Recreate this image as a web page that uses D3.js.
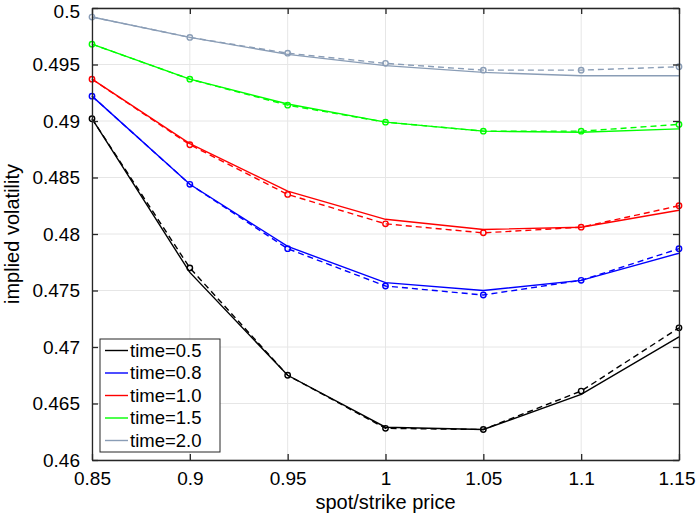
<!DOCTYPE html>
<html>
<head>
<meta charset="utf-8">
<script src="https://cdn.jsdelivr.net/npm/d3@7"></script>
<style>
  html, body { margin: 0; padding: 0; background: #fff; }
  svg { display: block; font-family: "Liberation Sans", Arial, Helvetica, sans-serif; }
</style>
</head>
<body>
<svg id="chart" width="696" height="519"></svg>
<script>
// ---- data ----
const spot = [0.85, 0.9, 0.95, 1.0, 1.05, 1.1, 1.15];
const seriesNames = ["time=0.5", "time=0.8", "time=1.0", "time=1.5", "time=2.0"];
const seriesColors = ["#000000", "#0000ff", "#ff0000", "#00ff00", "#8a9db6"];
// model (solid lines)
const model05 = [0.4902, 0.4766, 0.4675, 0.4629, 0.4627, 0.4658, 0.4709];
const model08 = [0.4922, 0.4844, 0.4789, 0.4757, 0.4750, 0.4759, 0.4783];
const model10 = [0.4937, 0.4880, 0.4838, 0.4813, 0.4804, 0.4806, 0.4821];
const model15 = [0.4968, 0.4937, 0.4915, 0.4899, 0.4891, 0.4890, 0.4893];
const model20 = [0.4992, 0.4974, 0.4959, 0.4949, 0.4943, 0.4940, 0.4940];
// market (dashed lines with circle markers)
const market05 = [0.4902, 0.4770, 0.4675, 0.4628, 0.4627, 0.4661, 0.4717];
const market08 = [0.4922, 0.4844, 0.4787, 0.4754, 0.4746, 0.4759, 0.4787];
const market10 = [0.4937, 0.4879, 0.4835, 0.4809, 0.4801, 0.4806, 0.4825];
const market15 = [0.4968, 0.4937, 0.4914, 0.4899, 0.4891, 0.4891, 0.4897];
const market20 = [0.4992, 0.4974, 0.4960, 0.4951, 0.4945, 0.4945, 0.4948];
const xTicks = [0.85, 0.9, 0.95, 1.0, 1.05, 1.1, 1.15];
const xTickLabels = ["0.85", "0.9", "0.95", "1", "1.05", "1.1", "1.15"];
const yTicks = [0.46, 0.465, 0.47, 0.475, 0.48, 0.485, 0.49, 0.495, 0.5];
const yTickLabels = ["0.46", "0.465", "0.47", "0.475", "0.48", "0.485", "0.49", "0.495", "0.5"];
const xLabel = "spot/strike price";
const yLabel = "implied volatility";

const models = [model05, model08, model10, model15, model20];
const markets = [market05, market08, market10, market15, market20];

// ---- layout ----
const L = 92, R = 679, T = 8, B = 460;
const svg = d3.select("#chart");
const x = d3.scaleLinear().domain([0.85, 1.15]).range([L, R]);
const y = d3.scaleLinear().domain([0.46, 0.5]).range([B, T]);

// grid
const grid = svg.append("g");
grid.selectAll("line.gx").data(xTicks).join("line")
  .attr("x1", d => x(d)).attr("x2", d => x(d)).attr("y1", T).attr("y2", B)
  .attr("stroke", "#e6e6e6").attr("stroke-width", 1);
grid.selectAll("line.gy").data(yTicks).join("line")
  .attr("y1", d => y(d)).attr("y2", d => y(d)).attr("x1", L).attr("x2", R)
  .attr("stroke", "#e6e6e6").attr("stroke-width", 1);

// series
const lineGen = d3.line().x((d, i) => x(spot[i])).y(d => y(d));
const plot = svg.append("g");
models.forEach((vals, k) => {
  plot.append("path").datum(markets[k]).attr("d", lineGen)
    .attr("fill", "none").attr("stroke", seriesColors[k]).attr("stroke-width", 1.4)
    .attr("stroke-dasharray", "6,4");
  plot.append("path").datum(vals).attr("d", lineGen)
    .attr("fill", "none").attr("stroke", seriesColors[k]).attr("stroke-width", 1.4);
  plot.selectAll(null).data(markets[k]).join("circle")
    .attr("cx", (d, i) => x(spot[i])).attr("cy", d => y(d)).attr("r", 2.7)
    .attr("fill", "none").attr("stroke", seriesColors[k]).attr("stroke-width", 1.4);
});

// axes (box with inward ticks)
const axisColor = "#262626";
const tickLen = 6;
const fmtX = (d, i) => xTickLabels[i];
const fmtY = (d, i) => yTickLabels[i];
const axB = svg.append("g").attr("transform", `translate(0,${B})`)
  .call(d3.axisBottom(x).tickValues(xTicks).tickFormat(fmtX).tickSizeInner(-tickLen).tickSizeOuter(0).tickPadding(12));
const axT = svg.append("g").attr("transform", `translate(0,${T})`)
  .call(d3.axisTop(x).tickValues(xTicks).tickFormat("").tickSizeInner(-tickLen).tickSizeOuter(0));
const axL = svg.append("g").attr("transform", `translate(${L},0)`)
  .call(d3.axisLeft(y).tickValues(yTicks).tickFormat(fmtY).tickSizeInner(-tickLen).tickSizeOuter(0).tickPadding(12));
const axR = svg.append("g").attr("transform", `translate(${R},0)`)
  .call(d3.axisRight(y).tickValues(yTicks).tickFormat("").tickSizeInner(-tickLen).tickSizeOuter(0));
[axB, axT, axL, axR].forEach(a => {
  a.select(".domain").attr("stroke", axisColor).attr("stroke-width", 1.3);
  a.selectAll(".tick line").attr("stroke", axisColor).attr("stroke-width", 1.3);
  a.selectAll("text").attr("fill", "#000").style("font-size", "19px")
    .style("font-family", '"Liberation Sans", Arial, sans-serif');
});
// keep the last x tick label inside the window, as in the reference
axB.selectAll(".tick text").filter((d, i) => i === xTicks.length - 1)
  .attr("text-anchor", "end").attr("dx", "16px");
// keep the top y tick label inside the window
axL.selectAll(".tick text").filter((d, i) => i === yTicks.length - 1)
  .attr("dy", "0.5em");

// axis labels
svg.append("text").attr("x", (L + R) / 2).attr("y", 509).attr("text-anchor", "middle")
  .style("font-size", "20px").attr("fill", "#000").text(xLabel);
svg.append("text").attr("transform", `translate(19,${(T + B) / 2}) rotate(-90)`)
  .attr("text-anchor", "middle").style("font-size", "20px").attr("fill", "#000").text(yLabel);

// legend
const lg = svg.append("g");
const lgX = 100, lgY = 339, lgW = 120, lgH = 113, rowH = 22.5;
lg.append("rect").attr("x", lgX).attr("y", lgY).attr("width", lgW).attr("height", lgH)
  .attr("fill", "#fff").attr("stroke", "#262626").attr("stroke-width", 1);
seriesNames.forEach((name, k) => {
  const cy = lgY + 11.5 + k * rowH;
  lg.append("line").attr("x1", lgX + 5).attr("x2", lgX + 28).attr("y1", cy).attr("y2", cy)
    .attr("stroke", seriesColors[k]).attr("stroke-width", 1.4);
  lg.append("text").attr("x", lgX + 30).attr("y", cy).attr("dy", "0.35em")
    .style("font-size", "18.5px").attr("fill", "#000").text(name);
});
</script>
</body>
</html>
